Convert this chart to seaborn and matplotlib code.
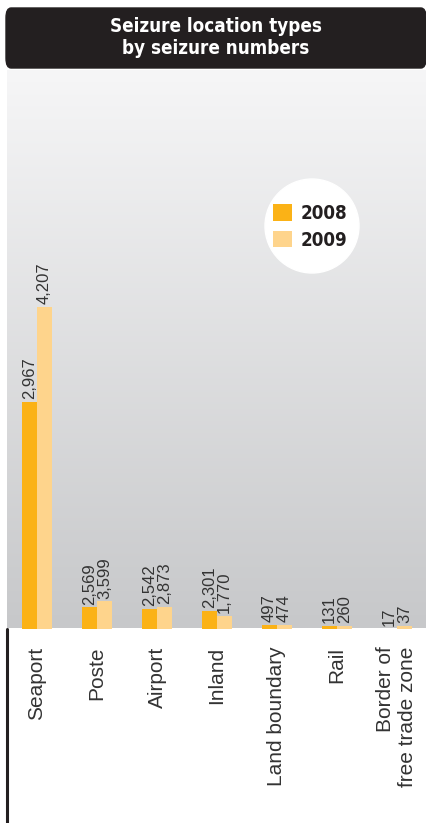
import numpy as np
import pandas as pd
import seaborn as sns
import matplotlib.pyplot as plt
from matplotlib.patches import FancyBboxPatch, Circle

locations = ['Seaport', 'Poste', 'Airport', 'Inland', 'Land boundary', 'Rail',
             'Border of\nfree trade zone']
years = ['2008', '2009']
seized_2008 = ['2,967', '2,569', '2,542', '2,301', '497', '131', '17']
seized_2009 = ['4,207', '3,599', '2,873', '1,770', '474', '260', '37']
# the printed bar lengths do not follow the labels, so keep them as drawn
bar_2008 = [2967, 275, 255, 229, 46, 39, 0]
bar_2009 = [4207, 353, 281, 164, 46, 36, 36]

col_2008 = '#fbb216'
col_2009 = '#fed48c'
text_col = '#333333'

df = pd.DataFrame({
    'location': locations * 2,
    'year': [years[0]] * len(locations) + [years[1]] * len(locations),
    'height': bar_2008 + bar_2009,
    'label': seized_2008 + seized_2009,
})

sns.set_style('white')
plt.rcParams['font.family'] = ['Liberation Sans', 'DejaVu Sans']
narrow = ['Liberation Sans Narrow', 'DejaVu Sans']

W, H = 427, 823
fig = plt.figure(figsize=(W / 100, H / 100), dpi=100)
ax = fig.add_axes([7 / W, (H - 628.5) / H, 1 - 7 / W, (628.5 - 70) / H])

ymax = 7300
# gray gradient behind the bars
grad = np.linspace(0, 1, 256).reshape(-1, 1)
cmap = sns.blend_palette(['#c7c8ca', '#f6f6f7'], as_cmap=True)
ax.imshow(grad, aspect='auto', cmap=cmap, origin='lower',
          extent=(-0.5, 6.5, 0, ymax), zorder=0)

sns.barplot(data=df, x='location', y='height', hue='year',
            palette=[col_2008, col_2009], width=0.5, saturation=1,
            errorbar=None, ax=ax, zorder=2, linewidth=0)
ax.set_xlim(-0.5, 6.5)
ax.set_ylim(0, ymax)
ax.set_xlabel('')
ax.set_ylabel('')
ax.set_yticks([])
for s in ax.spines.values():
    s.set_visible(False)

# value labels on each bar
for cont, labs in zip(ax.containers, [seized_2008, seized_2009]):
    for bar, lab in zip(cont, labs):
        ax.annotate(lab, (bar.get_x() + bar.get_width() / 2, bar.get_height()),
                    xytext=(0, 2), textcoords='offset points', rotation=90,
                    ha='center', va='bottom', fontsize=12, color=text_col,
                    zorder=3)

ax.tick_params(axis='x', length=0, pad=13)
ax.set_xticks(range(len(locations)))
ax.set_xticklabels(locations, rotation=90, fontsize=15, color=text_col)
for lbl in ax.get_xticklabels():
    lbl.set_multialignment('right')

# legend inside a white circle
ax.add_patch(Circle((312 / 100, (H - 226) / 100), 0.47,
                    transform=fig.dpi_scale_trans, color='white', zorder=5))
leg = ax.legend(loc='upper left', bbox_to_anchor=(273 / W, 1 - 204 / H),
                bbox_transform=fig.transFigure, frameon=False,
                handlelength=1.0, handleheight=1.0, handletextpad=0.5,
                labelspacing=0.4, borderpad=0, borderaxespad=0,
                prop={'family': narrow, 'weight': 'bold', 'size': 13.5,
                      'stretch': 'condensed'})
leg.set_zorder(6)
for t in leg.get_texts():
    t.set_color('#231f20')

# bottom-left vertical rule
fig.add_artist(plt.Line2D([7.5 / W, 7.5 / W], [0, (H - 628.5) / H],
                          color='#231f20', lw=2.2))

# title box
fig.patches.append(FancyBboxPatch((6 / W, (H - 68) / H), 420 / W, 60 / H,
                                  boxstyle='round,pad=0,rounding_size=0.012',
                                  transform=fig.transFigure,
                                  color='#231f20', zorder=5))
fig.text(216 / W, 1 - 38 / H, 'Seizure location types\nby seizure numbers',
         ha='center', va='center', color='white', fontsize=13.5,
         fontweight='bold', fontstretch='condensed', family=narrow,
         linespacing=1.2, zorder=6)

fig.savefig('out.png', dpi=100)
